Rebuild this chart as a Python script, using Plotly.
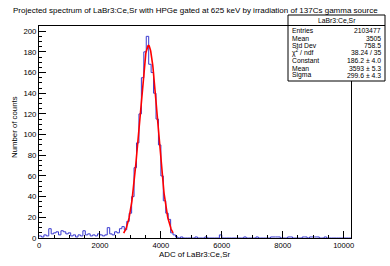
import numpy as np
import plotly.graph_objects as go

# ---- data ----
bin_width = 80
x_min, x_max = 0, 10240
counts_low = [2, 1, 3, 2, 9, 4, 5, 6, 3, 7, 6, 4, 5, 2, 3, 1, 3, 2, 7, 3,
              4, 2, 3, 2, 4, 3, 2, 3, 10, 4, 3, 6, 5, 9, 11, 8]
counts_peak = [16, 24, 40, 68, 92, 120, 155, 180, 195, 168, 160, 140, 115,
               90, 60, 36, 24, 18, 5, 3, 1]
counts_high = [0, 1, 0, 0, 0, 0, 0, 1, 0, 0, 0, 1, 0, 0, 0, 0, 0, 3, 0, 0,
               0, 0, 0, 0, 0, 0, 0, 1, 0, 0, 0, 0, 1, 0, 0, 0, 0, 0, 1, 1,
               1, 1, 0, 0, 0, 1, 1, 0, 0, 0, 0, 1, 1, 0, 1, 1, 1, 1, 0, 0,
               1, 0, 0, 0, 0, 0, 0, 0, 0, 0, 0]
counts = counts_low + counts_peak + counts_high

# fit parameters shown in the stats box
fit_const, fit_mean, fit_sigma = 186.2, 3593.0, 299.6
fit_range = [2780, 4400]

stats_title = "LaBr3:Ce,Sr"
stats_labels = ["Entries", "Mean", "Std Dev", "χ<sup>2</sup> / ndf", "Constant", "Mean", "Sigma"]
stats_values = ["2103477", "3505", "758.5", "38.24 / 35", "186.2 ± 4.0", "3593 ± 5.3", "299.6 ± 4.3"]

title_text = "Projected spectrum of LaBr3:Ce,Sr with HPGe gated at 625 keV by irradiation of 137Cs gamma source"
x_title = "ADC of LaBr3:Ce,Sr"
y_title = "Number of counts"

# ---- figure ----
W, H = 390, 266
ml, mr, mt, mb = 39, 39, 26, 28
pw, ph = W - ml - mr, H - mt - mb

def px(x):
    return (x - ml) / pw

def py(y):
    return (H - mb - y) / ph

edges = [x_min + i * bin_width for i in range(len(counts) + 1)]
step_y = counts + [counts[-1]]

fx = np.linspace(fit_range[0], fit_range[1], 200)
fy = fit_const * np.exp(-0.5 * ((fx - fit_mean) / fit_sigma) ** 2)

fig = go.Figure()
fig.add_trace(go.Scatter(x=edges, y=step_y, mode="lines", line_shape="hv",
                         line=dict(color="#3a3ad0", width=1), hoverinfo="skip"))
fig.add_trace(go.Scatter(x=fx, y=fy, mode="lines",
                         line=dict(color="#ff0000", width=1.6), hoverinfo="skip"))

font = "Liberation Sans, Arial, Helvetica, sans-serif"
fig.update_layout(
    width=W, height=H, margin=dict(l=ml, r=mr, t=mt, b=mb),
    paper_bgcolor="white", plot_bgcolor="white", showlegend=False,
    font=dict(family=font, size=8, color="black"),
)
fig.update_xaxes(range=[x_min, x_max], showgrid=False, zeroline=False,
                 showline=True, linecolor="black", linewidth=1, mirror=True,
                 ticks="inside", ticklen=7, tickcolor="black", dtick=2000, tick0=0,
                 minor=dict(ticks="inside", ticklen=3, dtick=500, tickcolor="black"),
                 tickfont=dict(size=7.6), tickformat="d", showticklabels=True)
fig.update_yaxes(range=[0, 205], showgrid=False, zeroline=False,
                 showline=True, linecolor="black", linewidth=1, mirror=True,
                 ticks="inside", ticklen=7, tickcolor="black", dtick=20, tick0=0,
                 minor=dict(ticks="inside", ticklen=3, dtick=5, tickcolor="black"),
                 tickfont=dict(size=7.8), tickformat="d")

# titles
fig.add_annotation(text=title_text, xref="paper", yref="paper", x=px(195), y=py(10),
                   showarrow=False, font=dict(size=8.0), xanchor="center", yanchor="middle")
fig.add_annotation(text=x_title, xref="paper", yref="paper", x=px(194), y=py(254),
                   showarrow=False, font=dict(size=7.9), xanchor="center", yanchor="middle")
fig.add_annotation(text=y_title, xref="paper", yref="paper", x=px(15), y=py(127),
                   showarrow=False, font=dict(size=7.8), textangle=-90,
                   xanchor="center", yanchor="middle")

# stats box
bx0, bx1, by0, by1 = 288, 385, 15, 81
fig.add_shape(type="rect", xref="paper", yref="paper", x0=px(bx0), x1=px(bx1),
              y0=py(by1), y1=py(by0), line=dict(color="black", width=1), fillcolor="white")
fig.add_shape(type="line", xref="paper", yref="paper", x0=px(bx0), x1=px(bx1),
              y0=py(25.5), y1=py(25.5), line=dict(color="black", width=1))
fig.add_annotation(text=stats_title, xref="paper", yref="paper", x=px((bx0 + bx1) / 2), y=py(20.3),
                   showarrow=False, font=dict(size=6.8), xanchor="center", yanchor="middle")
row_y = [30.7, 38.0, 45.5, 52.8, 60.5, 68.0, 75.4]
for lab, val, yy in zip(stats_labels, stats_values, row_y):
    fig.add_annotation(text=lab, xref="paper", yref="paper", x=px(bx0 + 2), y=py(yy),
                       showarrow=False, font=dict(size=6.8), xanchor="left", yanchor="middle")
    fig.add_annotation(text=val, xref="paper", yref="paper", x=px(bx1 - 2), y=py(yy),
                       showarrow=False, font=dict(size=6.8), xanchor="right", yanchor="middle")

fig.write_html("out.html", config={"displayModeBar": False},
               post_script="document.body.style.margin='0px';")
